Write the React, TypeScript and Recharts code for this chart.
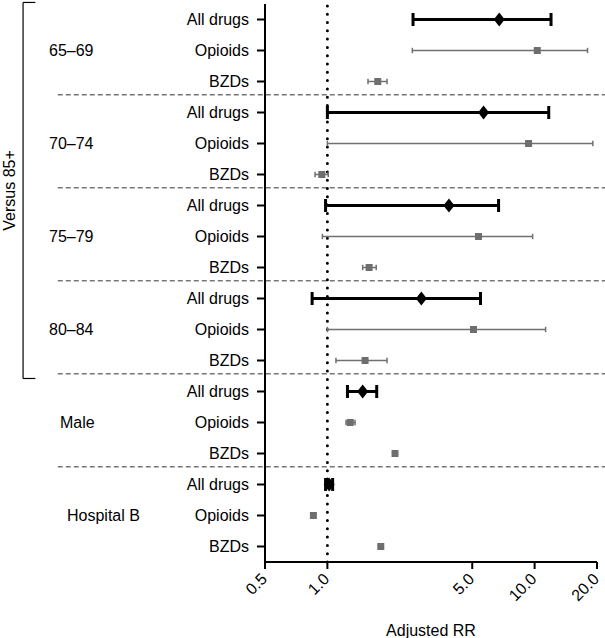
import React from 'react';
import {
  ScatterChart, Scatter, XAxis, YAxis, ErrorBar, ReferenceLine,
} from 'recharts';

if (typeof document !== 'undefined') document.body.style.margin = '0';

const groups = ['65–69', '70–74', '75–79', '80–84', 'Male', 'Hospital B'];
const drugs = ['All drugs', 'Opioids', 'BZDs'];

const estimate = [6.75, 10.3, 1.75, 5.67, 9.35, 0.94, 3.86, 5.36, 1.59, 2.84, 5.07, 1.52, 1.48, 1.29, 2.12, 1.02, 0.856, 1.81];
const lower = [2.59, 2.57, 1.57, 1.0, 1.0, 0.872, 0.98, 0.946, 1.48, 0.844, 1.0, 1.1, 1.25, 1.23, 2.09, 0.98, 0.84, 1.78];
const upper = [12.0, 18.0, 1.94, 11.7, 19.1, 1.01, 6.7, 9.78, 1.72, 5.48, 11.3, 1.94, 1.73, 1.36, 2.15, 1.06, 0.87, 1.84];

const xTicks = [0.5, 1, 5, 10, 20];

// label x offsets for the group names (style only)
const groupLabelX = [49, 49, 49, 49, 60, 67];

const FONT = '"Liberation Sans", Arial, sans-serif';

const rows = estimate.map((v, i) => ({
  row: i,
  rr: v,
  err: [v - lower[i], upper[i] - v],
  drug: drugs[i % 3],
}));
const allRows = rows.filter((r) => r.drug === 'All drugs');
const subRows = rows.filter((r) => r.drug !== 'All drugs');
const rowTicks = rows.map((r) => r.row);
const separators = groups.slice(1).map((_, g) => (g + 1) * 3 - 0.57);

const Diamond = (props: any) => {
  const { cx, cy } = props;
  return <polygon points={`${cx},${cy - 7} ${cx + 5.5},${cy} ${cx},${cy + 7} ${cx - 5.5},${cy}`} fill="#000" />;
};

const Square = (props: any) => {
  const { cx, cy } = props;
  return <rect x={cx - 3.5} y={cy - 3.5} width={7} height={7} fill="#6e6e6e" />;
};

const RowTick = (props: any) => {
  const { x, y, payload } = props;
  const i = payload.value as number;
  const g = Math.floor(i / 3);
  return (
    <g>
      <text x={x} y={y} dy="0.35em" textAnchor="end" fontSize={16} fontFamily={FONT} fill="#000">
        {drugs[i % 3]}
      </text>
      {i % 3 === 1 && (
        <text x={groupLabelX[g]} y={y} dy="0.35em" textAnchor="start" fontSize={16} fontFamily={FONT} fill="#000">
          {groups[g]}
        </text>
      )}
    </g>
  );
};

const RRTick = (props: any) => {
  const { x, y, payload } = props;
  return (
    <g transform={`translate(${x - 1},${y + 5}) rotate(-45)`}>
      <text x={0} y={0} dy="0.35em" textAnchor="end" fontSize={16} fontFamily={FONT} fill="#000">
        {Number(payload.value).toFixed(1)}
      </text>
    </g>
  );
};

const VersusLabel = (props: any) => {
  const { viewBox } = props;
  const cx = viewBox.x - 8;
  const cy = viewBox.y + viewBox.height / 2;
  return (
    <text x={cx} y={cy} transform={`rotate(-90, ${cx}, ${cy})`} textAnchor="middle" fontSize={16} fontFamily={FONT} fill="#000">
      Versus 85+
    </text>
  );
};

export default function App() {
  return (
    <ScatterChart width={605} height={638} margin={{ top: 4, right: 8, bottom: 0, left: 0 }}>
      <XAxis
        type="number"
        dataKey="rr"
        scale="log"
        domain={[0.5, 20]}
        ticks={xTicks}
        allowDataOverflow
        axisLine={{ stroke: '#000', strokeWidth: 2 }}
        tickLine={{ stroke: '#000', strokeWidth: 2 }}
        tickSize={7}
        tick={<RRTick />}
        height={76}
        label={{ value: 'Adjusted RR', position: 'insideBottom', offset: 2, fontSize: 16, fontFamily: FONT, fill: '#000' }}
      />
      <YAxis
        type="number"
        dataKey="row"
        domain={[-0.5, 17.5]}
        reversed
        ticks={rowTicks}
        interval={0}
        width={265}
        axisLine={{ stroke: '#000', strokeWidth: 2 }}
        tickLine={{ stroke: '#000', strokeWidth: 2 }}
        tickSize={8}
        tickMargin={8}
        tick={<RowTick />}
      />
      {separators.map((s) => (
        <ReferenceLine
          key={s}
          segment={[{ x: 0.05, y: s }, { x: 22, y: s }]}
          ifOverflow="visible"
          stroke="#777"
          strokeWidth={1.5}
          strokeDasharray="5 3"
        />
      ))}
      <ReferenceLine x={1} stroke="#000" strokeWidth={3} strokeDasharray="0 8.3" strokeLinecap="round" />
      <ReferenceLine segment={[{ x: 0.034, y: -0.55 }, { x: 0.034, y: 11.58 }]} ifOverflow="visible" stroke="#000" strokeWidth={1.2} label={<VersusLabel />} />
      <ReferenceLine segment={[{ x: 0.034, y: -0.55 }, { x: 0.039, y: -0.55 }]} ifOverflow="visible" stroke="#000" strokeWidth={1.2} />
      <ReferenceLine segment={[{ x: 0.034, y: 11.58 }, { x: 0.039, y: 11.58 }]} ifOverflow="visible" stroke="#000" strokeWidth={1.2} />
      <Scatter data={subRows} shape={<Square />} isAnimationActive={false}>
        <ErrorBar dataKey="err" direction="x" stroke="#707070" strokeWidth={1.5} width={2.7} />
      </Scatter>
      <Scatter data={allRows} shape={<Diamond />} isAnimationActive={false}>
        <ErrorBar dataKey="err" direction="x" stroke="#000" strokeWidth={3} width={6.5} />
      </Scatter>
    </ScatterChart>
  );
}
